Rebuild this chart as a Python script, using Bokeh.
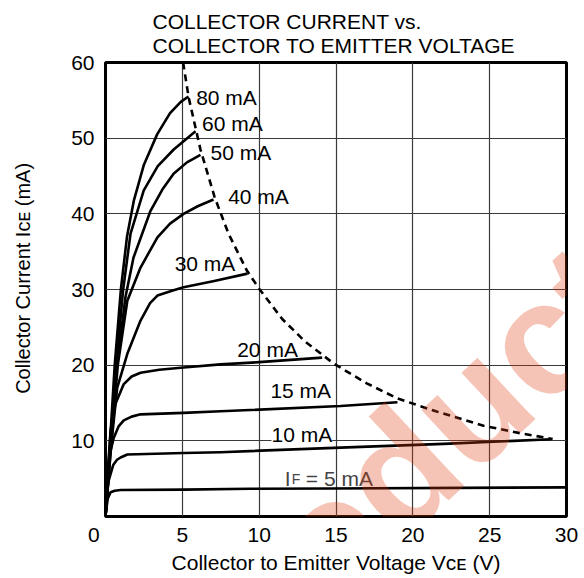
import math
from bokeh.plotting import figure
from bokeh.models import Range1d, Label, FixedTicker, Title
from bokeh.embed import file_html
from bokeh.resources import INLINE

# ---------------- data ----------------
title_lines = ["COLLECTOR CURRENT vs.", "COLLECTOR TO EMITTER VOLTAGE"]
x_ticks = [0, 5, 10, 15, 20, 25, 30]
y_ticks = [0, 10, 20, 30, 40, 50, 60]

v_80 = [0, 0.15, 0.3, 0.6, 1.0, 1.4, 1.84, 2.5, 3.36, 4.2, 4.9, 5.4]
i_80 = [0, 5.0, 10.0, 20.0, 30.0, 37.0, 41.7, 46.5, 50.5, 53.3, 54.8, 55.5]

v_60 = [0, 0.15, 0.33, 0.7, 1.15, 1.63, 2.49, 3.4, 4.44, 5.2, 5.86]
i_60 = [0, 4.5, 10.0, 20.0, 30.0, 37.4, 43.1, 46.3, 48.5, 49.8, 50.9]

v_50 = [0, 0.15, 0.35, 0.75, 1.3, 1.82, 2.93, 3.7, 4.43, 5.3, 6.18]
i_50 = [0, 4.2, 10.0, 20.0, 29.0, 34.2, 40.4, 43.2, 45.3, 46.8, 47.8]

v_40 = [0, 0.15, 0.38, 0.8, 1.42, 2.28, 3.38, 4.2, 5.08, 6.0, 7.03]
i_40 = [0, 4.0, 10.0, 20.0, 28.5, 32.9, 36.9, 38.7, 40.0, 41.0, 41.9]

v_30 = [0, 0.15, 0.4, 0.76, 1.42, 2.28, 2.9, 3.38, 4.43, 5.08, 7.0, 9.24]
i_30 = [0, 4.0, 10.0, 17.0, 21.5, 25.9, 28.2, 29.2, 29.9, 30.3, 31.1, 32.1]

v_20 = [0, 0.12, 0.33, 0.65, 1.19, 1.7, 2.28, 3.5, 5.08, 7.48, 10.0, 14.1]
i_20 = [0, 5.0, 11.4, 14.9, 17.5, 18.5, 19.0, 19.4, 19.7, 20.1, 20.4, 21.0]

v_15 = [0, 0.1, 0.25, 0.54, 0.85, 1.19, 1.7, 2.28, 5.08, 7.48, 15.3, 19.0]
i_15 = [0, 4.0, 8.0, 10.4, 11.9, 12.7, 13.2, 13.5, 13.7, 13.9, 14.6, 15.1]

v_10 = [0, 0.08, 0.2, 0.5, 0.75, 0.98, 1.42, 5.08, 7.48, 15.3, 22.0, 29.0]
i_10 = [0, 2.5, 4.7, 6.8, 7.5, 7.8, 8.2, 8.4, 8.5, 9.1, 9.6, 10.2]

v_5 = [0, 0.04, 0.15, 0.33, 0.6, 0.98, 5.08, 9.43, 14.6, 30.0]
i_5 = [0, 0.8, 2.4, 3.2, 3.4, 3.5, 3.55, 3.66, 3.7, 3.85]

v_limit = [5.05, 5.42, 6.18, 7.1, 8.0, 9.2, 10.0, 11.5, 13.0, 14.86, 17.0, 19.0, 21.5, 24.6, 27.0, 29.1]
i_limit = [60.0, 55.3, 48.5, 42.2, 37.4, 32.5, 30.1, 26.1, 23.1, 20.2, 17.6, 15.6, 13.9, 12.0, 11.0, 10.25]

curves_v = [v_80, v_60, v_50, v_40, v_30, v_20, v_15, v_10, v_5]
curves_i = [i_80, i_60, i_50, i_40, i_30, i_20, i_15, i_10, i_5]

curve_labels = ["80 mA", "60 mA", "50 mA", "40 mA", "30 mA", "20 mA", "15 mA", "10 mA"]
label_v = [5.9, 6.28, 6.83, 7.98, 4.5, 8.57, 10.73, 10.8]
label_i = [55.4, 51.9, 48.1, 42.3, 33.5, 22.1, 16.6, 10.9]

if_label_parts = ["I", "F", "= 5 mA"]
if_label_v = 11.67
if_label_i = 5.0

x_title = "Collector to Emitter Voltage V\u1d04\u1d07 (V)"
y_title = "\u00a0" * 4 + "Collector Current I\u1d04\u1d07 (mA)"
watermark_text = "Product"

FONT = "Liberation Sans"

# ---------------- figure ----------------
p = figure(width=584, height=578, output_backend="svg", toolbar_location=None,
           x_range=Range1d(0, 30), y_range=Range1d(0, 60), title=None,
           min_border_left=105, min_border_right=18, min_border_top=62,
           min_border_bottom=62)
p.background_fill_color = "white"
p.border_fill_color = "white"
p.outline_line_color = "black"
p.outline_line_width = 3

for ax in (p.xaxis[0], p.yaxis[0]):
    ax.axis_line_color = None
    ax.major_tick_line_color = None
    ax.minor_tick_line_color = None
    ax.major_label_text_font = FONT
    ax.major_label_text_font_size = "21px"
    ax.major_label_text_color = "black"
    ax.axis_label_text_font = FONT
    ax.axis_label_text_font_style = "normal"
    ax.axis_label_text_color = "black"

p.xaxis.axis_label_text_font_size = "21px"
p.yaxis.axis_label_text_font_size = "20px"
p.xaxis.ticker = FixedTicker(ticks=x_ticks)
p.yaxis.ticker = FixedTicker(ticks=y_ticks)
p.xaxis.major_label_overrides = {0: "0" + "\u00a0" * 4}
p.yaxis.major_label_overrides = {0: ""}
p.xaxis.major_label_standoff = 0
p.yaxis.major_label_standoff = 5
p.xaxis.axis_label = x_title
p.yaxis.axis_label = y_title
p.xaxis.axis_label_standoff = 2
p.yaxis.axis_label_standoff = 34

p.xgrid.ticker = FixedTicker(ticks=x_ticks)
p.ygrid.ticker = FixedTicker(ticks=y_ticks)
for g in (p.xgrid[0], p.ygrid[0]):
    g.grid_line_color = "#3a3a3a"
    g.grid_line_width = 1.2

for vv, ii in zip(curves_v, curves_i):
    p.line(vv, ii, line_color="black", line_width=2.6, line_join="round")

p.line(v_limit, i_limit, line_color="black", line_width=2.6, line_dash="7 5")

# curve labels
for txt, lv, li in zip(curve_labels, label_v, label_i):
    kw = {}
    if txt == "10 mA":
        kw = dict(background_fill_color="white", background_fill_alpha=1.0)
    p.add_layout(Label(x=lv, y=li, text=txt, text_font=FONT, text_font_size="21px",
                       text_align="left", text_baseline="middle", text_color="black", **kw))

# I_F = 5 mA
p.add_layout(Label(x=if_label_v, y=if_label_i, text=if_label_parts[0], text_font=FONT,
                   text_font_size="21px", text_baseline="alphabetic"))
p.add_layout(Label(x=if_label_v, y=if_label_i, x_offset=7, text=if_label_parts[1], text_font=FONT,
                   text_font_size="14px", text_baseline="alphabetic"))
p.add_layout(Label(x=if_label_v, y=if_label_i, x_offset=21, text=if_label_parts[2], text_font=FONT,
                   text_font_size="21px", text_baseline="alphabetic"))

# two-line title
p.add_layout(Title(text="\n".join(title_lines), align="left", offset=47, text_font=FONT,
                   text_font_size="21px", text_font_style="normal", text_color="black",
                   text_line_height=1.05, standoff=11), "above")

# watermark
p.add_layout(Label(x=62, y=-170, x_units="screen", y_units="screen", text=watermark_text,
                   angle=math.radians(43), text_font=FONT, text_font_size="160px",
                   text_font_style="bold", text_color="#e13a0c", text_alpha=0.3,
                   text_baseline="alphabetic", level="overlay"))

open("out.html", "w").write(file_html(p, INLINE))
